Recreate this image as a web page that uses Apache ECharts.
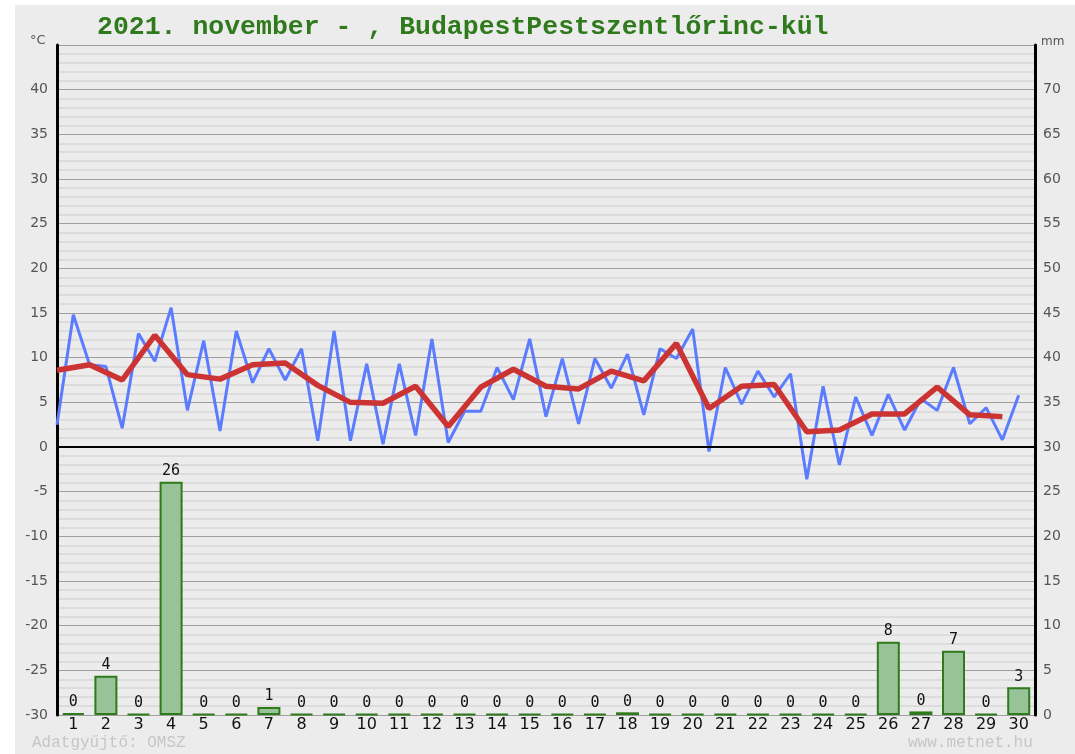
<!DOCTYPE html>
<html>
<head>
<meta charset="utf-8">
<script src="https://cdn.jsdelivr.net/npm/echarts@6/dist/echarts.min.js"></script>
<style>
  html, body { margin: 0; padding: 0; background: #fff; }
  #chart { width: 1075px; height: 754px; }
</style>
</head>
<body>
<div id="chart"></div>
<script>
// napok
const days = ['1','2','3','4','5','6','7','8','9','10','11','12','13','14','15',
  '16','17','18','19','20','21','22','23','24','25','26','27','28','29','30']

// homerseklet, napi ket meres (°C)
const tempReadings = [
  2.5, 14.8, 9.2, 9.0, 2.1, 12.7, 9.6, 15.6, 4.1, 11.9,
  1.8, 13.0, 7.2, 11.0, 7.5, 11.0, 0.7, 13.0, 0.7, 9.3,
  0.3, 9.3, 1.3, 12.1, 0.5, 4.0, 4.0, 8.9, 5.3, 12.1,
  3.4, 9.9, 2.6, 9.9, 6.6, 10.4, 3.6, 11.0, 9.9, 13.2,
  -0.5, 8.9, 4.8, 8.5, 5.6, 8.2, -3.6, 6.8, -2.0, 5.6,
  1.3, 5.9, 1.9, 5.4, 4.1, 8.9, 2.6, 4.4, 0.8, 5.8
]

// napi kozephomerseklet (°C)
const dailyMean = [
  8.6, 9.2, 7.5, 12.5, 8.1, 7.6, 9.2, 9.4, 6.9, 5.0,
  4.9, 6.8, 2.3, 6.7, 8.7, 6.8, 6.5, 8.5, 7.4, 11.6,
  4.3, 6.8, 7.0, 1.7, 1.9, 3.7, 3.7, 6.7, 3.6, 3.4
]

// csapadek (mm)
const precip = [
  0.2, 4.4, 0, 26.1, 0, 0, 0.9, 0, 0, 0,
  0, 0, 0, 0, 0, 0, 0, 0.3, 0, 0,
  0, 0, 0, 0, 0, 8.2, 0.4, 7.2, 0, 3.1
]

const chart = echarts.init(document.getElementById('chart'))

const option = {
  backgroundColor: '#fff',
  animation: false,
  graphic: [
    {
      type: 'rect',
      z: -10,
      shape: { x: 15, y: 5, width: 1060, height: 749 },
      style: { fill: '#ececec' }
    },
    {
      type: 'text',
      left: 97,
      top: 14,
      style: {
        text: '2021. november - , BudapestPestszentlőrinc-kül',
        font: 'bold 26.5px "Liberation Mono", monospace',
        fill: '#2e7a1c'
      }
    },
    {
      type: 'text',
      left: 30,
      top: 34,
      style: { text: '°C', font: '13px "DejaVu Sans", sans-serif', fill: '#555' }
    },
    {
      type: 'text',
      left: 1041,
      top: 36,
      style: { text: 'mm', font: '12px "DejaVu Sans", sans-serif', fill: '#555' }
    },
    {
      type: 'text',
      left: 32,
      top: 735,
      style: { text: 'Adatgyűjtő: OMSZ', font: '16px "Liberation Mono", monospace', fill: '#c6c6c6' }
    },
    {
      type: 'text',
      left: 908,
      top: 735,
      style: { text: 'www.metnet.hu', font: '16px "Liberation Mono", monospace', fill: '#c6c6c6' }
    }
  ],
  grid: {
    left: 57,
    right: 40,
    top: 45,
    bottom: 39
  },
  xAxis: [
    {
      type: 'category',
      data: days,
      boundaryGap: true,
      axisLine: { show: false },
      axisTick: { show: false },
      axisLabel: {
        color: '#111',
        fontSize: 16,
        fontFamily: 'DejaVu Sans',
        margin: 2
      },
      splitLine: { show: false }
    },
    {
      type: 'value',
      min: 0,
      max: 30,
      show: false
    }
  ],
  yAxis: [
    {
      type: 'value',
      min: -30,
      max: 45,
      interval: 5,
      position: 'left',
      axisLine: { show: true, lineStyle: { color: '#000', width: 3 } },
      axisTick: { show: false },
      axisLabel: {
        color: '#555',
        fontSize: 14,
        fontFamily: 'DejaVu Sans',
        margin: 9,
        formatter: v => (v === 45 ? '' : String(v))
      },
      splitLine: { show: true, lineStyle: { color: '#9e9e9e', width: 1 } },
      minorTick: { show: false, splitNumber: 5 },
      minorSplitLine: { show: true, lineStyle: { color: '#d6d6d6', width: 1.5 } }
    },
    {
      type: 'value',
      min: 0,
      max: 75,
      interval: 5,
      position: 'right',
      axisLine: { show: true, lineStyle: { color: '#000', width: 3 } },
      axisTick: { show: false },
      axisLabel: {
        color: '#555',
        fontSize: 14,
        fontFamily: 'DejaVu Sans',
        margin: 8,
        formatter: v => (v === 75 ? '' : String(v))
      },
      splitLine: { show: false }
    }
  ],
  series: [
    {
      name: 'csapadek',
      type: 'bar',
      xAxisIndex: 0,
      yAxisIndex: 1,
      data: precip,
      barWidth: 23,
      barMinHeight: 1,
      itemStyle: {
        color: '#98c298',
        borderColor: '#2f7a1a',
        borderWidth: 2
      },
      label: {
        show: true,
        position: 'top',
        distance: 3,
        color: '#111',
        fontSize: 15,
        fontFamily: 'DejaVu Sans Mono',
        formatter: p => String(Math.round(p.value))
      },
      z: 2
    },
    {
      name: 'homerseklet',
      type: 'line',
      xAxisIndex: 1,
      yAxisIndex: 0,
      data: tempReadings.map((v, i) => [i / 2, v]),
      symbol: 'none',
      lineStyle: { color: '#5b7cff', width: 3 },
      z: 3,
      markLine: {
        silent: true,
        symbol: 'none',
        label: { show: false },
        lineStyle: { color: '#000', width: 2, type: 'solid' },
        data: [{ yAxis: 0 }]
      }
    },
    {
      name: 'kozep',
      type: 'line',
      xAxisIndex: 1,
      yAxisIndex: 0,
      data: dailyMean.map((v, i) => [i, v]),
      symbol: 'none',
      lineStyle: { color: '#cc3333', width: 5.5 },
      z: 4
    }
  ]
}

chart.setOption(option)
</script>
</body>
</html>
